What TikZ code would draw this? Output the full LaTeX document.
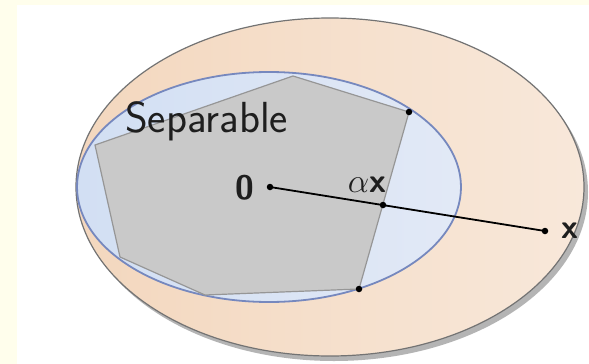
\RequirePackage{fix-cm}
\documentclass[tikz,border=0pt]{standalone}
\definecolor{bgyellow}{RGB}{255,254,236}
\definecolor{peachL}{RGB}{243,215,190}
\definecolor{peachR}{RGB}{248,232,218}
\definecolor{outergray}{RGB}{115,115,115}
\definecolor{shadowgray}{RGB}{180,180,180}
\definecolor{blueL}{RGB}{210,223,243}
\definecolor{blueR}{RGB}{226,233,246}
\definecolor{blueborder}{RGB}{118,136,190}
\definecolor{polyfill}{RGB}{201,201,201}
\definecolor{polyborder}{RGB}{150,150,150}
\definecolor{ink}{RGB}{30,30,30}
\begin{document}
\begin{tikzpicture}[x=1pt,y=-1pt,
  dot/.style={circle,fill=black,inner sep=0pt,minimum size=6.5pt},
  lbl/.style={inner sep=0pt,text=ink,font=\fontsize{34}{38}\selectfont\sffamily\bfseries},
  conn/.style={draw=black,line width=1.8pt}]
\useasboundingbox (0,0) rectangle (589,364);
\fill[bgyellow] (0,0) rectangle (589,364);
\fill[white] (17,5) rectangle (589,364);
% outer set with shadow
\fill[shadowgray] (334,192) ellipse [x radius=254, y radius=169];
\path[left color=peachL, right color=peachR, draw=outergray, line width=1.2pt]
  (330,187) ellipse [x radius=254, y radius=169];
% inner ellipse
\path[left color=blueL, right color=blueR, draw=blueborder, line width=1.8pt]
  (269,187) ellipse [x radius=192, y radius=115];
% separable polygon
\coordinate (p1) at (293,76);
\coordinate (p2) at (409,112);
\coordinate (p3) at (359,289);
\coordinate (p4) at (205,295);
\coordinate (p5) at (120,257);
\coordinate (p6) at (95,145);
\draw[fill=polyfill, draw=polyborder, line width=1.2pt]
  (p1) -- (p2) -- (p3) -- (p4) -- (p5) -- (p6) -- cycle;
% text
\node[anchor=base west, inner sep=0pt, text=ink,
  font=\fontsize{43.5}{48}\selectfont\sffamily] (sep) at (125,132) {Separable};
\node[lbl] (zero) at (245,188) {0};
\node[lbl, anchor=base] (ax) at (367,192) {$\alpha$x};
\node[lbl] (xl) at (570,231) {x};
% points and segment
\node[dot] (o) at (270,187) {};
\node[dot] (axd) at (383,205) {};
\node[dot] (xd) at (545,231) {};
\node[dot] (v2) at (p2) {};
\node[dot] (v3) at (p3) {};
\draw[conn] (o.center) -- (xd.center);
\end{tikzpicture}
\end{document}
